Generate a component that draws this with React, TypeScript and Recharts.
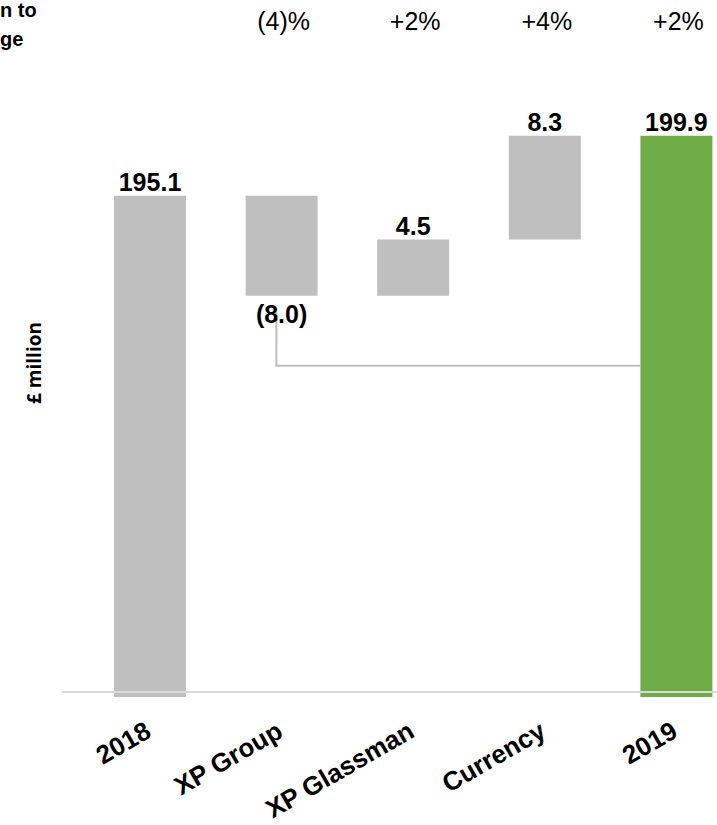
import { Bar, BarChart, Cell, LabelList, ReferenceLine, XAxis, YAxis } from 'recharts';

const steps = ['2018', 'XP Group', 'XP Glassman', 'Currency', '2019'];
const amounts = [195.1, -8.0, 4.5, 8.3, 199.9];
const isTotal = [true, false, false, false, true];
const valueLabels = ['195.1', '(8.0)', '4.5', '8.3', '199.9'];
const changeLabels = ['', '(4)%', '+2%', '+4%', '+2%'];

const FONT = '"Liberation Sans", Arial, sans-serif';
const GREY = '#bfbfbf';
const GREEN = '#70ad47';

// waterfall: totals start from zero, deltas float on the running total
let running = 0;
const data = steps.map((name, i) => {
    let range: [number, number];
    if (isTotal[i]) {
        range = [0, amounts[i]];
        running = amounts[i];
    } else {
        const next = Math.round((running + amounts[i]) * 10) / 10;
        range = [Math.min(running, next), Math.max(running, next)];
        running = next;
    }
    return { name, range, label: valueLabels[i], change: changeLabels[i] };
});

const BottomTick = ({ x, payload }: any) => (
    <text
        x={x + 3}
        y={736}
        transform={`rotate(-30, ${x + 3}, 736)`}
        textAnchor="end"
        fontSize={26}
        fontWeight={700}
        fontFamily={FONT}
        fill="#000"
    >
        {payload.value}
    </text>
);

const renderValue = (props: any) => {
    const vb = props.viewBox || props;
    const { x, y, width, height } = vb;
    const i = props.index;
    const top = Math.min(y, y + height);
    const bottom = Math.max(y, y + height);
    const below = amounts[i] < 0;
    return (
        <text
            x={x + width / 2}
            y={below ? bottom + 27 : top - 5}
            textAnchor="middle"
            fontSize={25}
            fontWeight={700}
            fontFamily={FONT}
            fill="#000"
        >
            {valueLabels[i]}
        </text>
    );
};

const renderChange = (props: any) => {
    const vb = props.viewBox || props;
    const { x, width } = vb;
    return (
        <text x={x + width / 2 + 2} y={30} textAnchor="middle" fontSize={25} fontFamily={FONT} fill="#000">
            {changeLabels[props.index]}
        </text>
    );
};

const shiftedLine = (dx1: number, dx2: number) => (p: any) => (
    <line x1={p.x1 + dx1} y1={p.y1} x2={p.x2 + dx2} y2={p.y2} stroke={GREY} strokeWidth={2} />
);

export default function App() {
    return (
        <div style={{ position: 'absolute', left: 0, top: 0, width: 717, height: 825, overflow: 'hidden', background: '#fff' }}>
            <BarChart width={742} height={825} data={data} margin={{ top: 72, right: 0, bottom: 0, left: 62 }} barSize={72}>
                <XAxis
                    dataKey="name"
                    height={128}
                    padding={{ left: 22, right: 0 }}
                    axisLine={false}
                    tickLine={false}
                    tick={<BottomTick />}
                    interval={0}
                />
                <YAxis hide type="number" domain={[155, 205]} allowDataOverflow />
                <ReferenceLine y={155.4} stroke="#d9d9d9" strokeWidth={2} />
                <ReferenceLine
                    segment={[{ x: 'XP Group', y: 185.8 }, { x: 'XP Group', y: 181.5 }]}
                    shape={shiftedLine(-5, -5)}
                />
                <ReferenceLine
                    segment={[{ x: 'XP Group', y: 181.5 }, { x: '2019', y: 181.5 }]}
                    shape={shiftedLine(-6, -36)}
                />
                <Bar dataKey="range" isAnimationActive={false} fill={GREY}>
                    {data.map((d, i) => (
                        <Cell key={d.name} fill={i === data.length - 1 ? GREEN : GREY} />
                    ))}
                    <LabelList dataKey="label" content={renderValue} />
                    <LabelList dataKey="change" content={renderChange} />
                </Bar>
            </BarChart>
            <svg width={717} height={825} style={{ position: 'absolute', left: 0, top: 0, pointerEvents: 'none' }}>
                <text x={0} y={17} fontSize={20} fontWeight={700} fontFamily={FONT} fill="#000">
                    n to
                </text>
                <text x={0} y={46} fontSize={20} fontWeight={700} fontFamily={FONT} fill="#000">
                    ge
                </text>
                <text
                    x={34}
                    y={363}
                    transform="rotate(-90, 34, 363)"
                    textAnchor="middle"
                    dominantBaseline="central"
                    fontSize={19}
                    fontWeight={700}
                    fontFamily='"Open Sans", sans-serif'
                    fill="#000"
                >
                    £ million
                </text>
            </svg>
        </div>
    );
}
